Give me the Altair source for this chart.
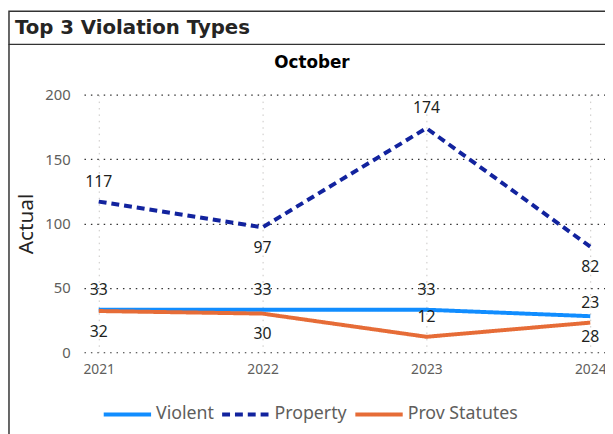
import altair as alt
import pandas as pd

years = ["2021", "2022", "2023", "2024"]
series_names = ["Violent", "Property", "Prov Statutes"]
violent = [33, 33, 33, 28]
prop = [117, 97, 174, 82]
prov = [32, 30, 12, 23]
violent_pos = ["above", "above", "above", "below"]
prop_pos = ["above", "below", "above", "below"]
prov_pos = ["below", "below", "above", "above"]
colors = ["#118DFF", "#12239E", "#E66C37"]
y_ticks = [0, 50, 100, 150, 200]

rows = []
for name, vals, poss in zip(series_names, [violent, prop, prov], [violent_pos, prop_pos, prov_pos]):
    for yr, v, p in zip(years, vals, poss):
        rows.append({"year": yr, "series": name, "value": v, "pos": p})
df = pd.DataFrame(rows)

FONT = "Segoe UI, Noto Sans, sans-serif"

leg = alt.Legend(
    title=None, orient="none", legendX=18, legendY=298, direction="horizontal",
    symbolType="stroke", symbolSize=2304, symbolStrokeWidth=4,
    labelFontSize=18, labelColor="#605E5C", labelFont=FONT,
    columnPadding=0, labelOffset=3,
)

xenc = alt.X("year:O", sort=years,
             scale=alt.Scale(type="point", padding=0.09),
             axis=alt.Axis(title=None, labelAngle=0, grid=True, gridColor="#C8C6C4",
                           gridDash=[1.5, 5], domain=False, ticks=False, labelPadding=11,
                           labelFontSize=14, labelColor="#605E5C", labelFont=FONT))
yenc = alt.Y("value:Q", scale=alt.Scale(domain=[0, 200], nice=False),
             axis=alt.Axis(values=y_ticks, title="Actual", grid=True, gridColor="#333333",
                           gridDash=[1.5, 5], gridWidth=1.2, domain=False, ticks=False,
                           labelPadding=14, labelFontSize=15, labelColor="#605E5C",
                           labelFont=FONT, titleFontSize=21, titleColor="#252423",
                           titleFont=FONT, titleFontWeight="normal", titlePadding=8))

base = alt.Chart(df)

lines = base.mark_line(strokeWidth=4).encode(
    x=xenc, y=yenc,
    color=alt.Color("series:N", scale=alt.Scale(domain=series_names, range=colors), legend=leg),
    strokeDash=alt.StrokeDash("series:N", scale=alt.Scale(domain=series_names,
                              range=[[1, 0], [8, 5], [1, 0]]), legend=leg),
    detail="series:N",
)

lab_above = base.transform_filter(alt.datum.pos == "above").mark_text(
    dy=-20, baseline="middle", fontSize=16, font=FONT, color="#201F1E"
).encode(x=alt.X("year:O", sort=years), y="value:Q", text="value:Q")
lab_below = base.transform_filter(alt.datum.pos == "below").mark_text(
    dy=21, baseline="middle", fontSize=16, font=FONT, color="#201F1E"
).encode(x=alt.X("year:O", sort=years), y="value:Q", text="value:Q")

one = pd.DataFrame({"k": [0]})
box = alt.Chart(one).mark_rect(fillOpacity=0, stroke="#333333", strokeWidth=1.5).encode(
    x=alt.value(-76), x2=alt.value(545), y=alt.value(-84.5), y2=alt.value(-51))
left_rule = alt.Chart(one).mark_rule(color="#333333", strokeWidth=1.5).encode(
    x=alt.value(-76), y=alt.value(-51), y2=alt.value(345))
title_txt = alt.Chart(one).mark_text(
    align="left", baseline="alphabetic", fontSize=20, fontWeight="bold",
    font="DejaVu Sans", color="#252423"
).encode(x=alt.value(-70), y=alt.value(-61), text=alt.value("Top 3 Violation Types"))
sub_txt = alt.Chart(one).mark_text(
    align="center", baseline="alphabetic", fontSize=17, fontWeight="bold",
    font="DejaVu Sans", color="#000000"
).encode(x=alt.value(231), y=alt.value(-27), text=alt.value("October"))

chart = alt.layer(lines, lab_above, lab_below, box, left_rule, title_txt, sub_txt).properties(
    width=528, height=261,
    autosize=alt.AutoSizeParams(type="none"),
    padding={"left": 77, "top": 85, "right": 0, "bottom": 80},
).configure_view(stroke=None)

chart.save("out.html", embed_options={"renderer": "svg", "actions": False})
